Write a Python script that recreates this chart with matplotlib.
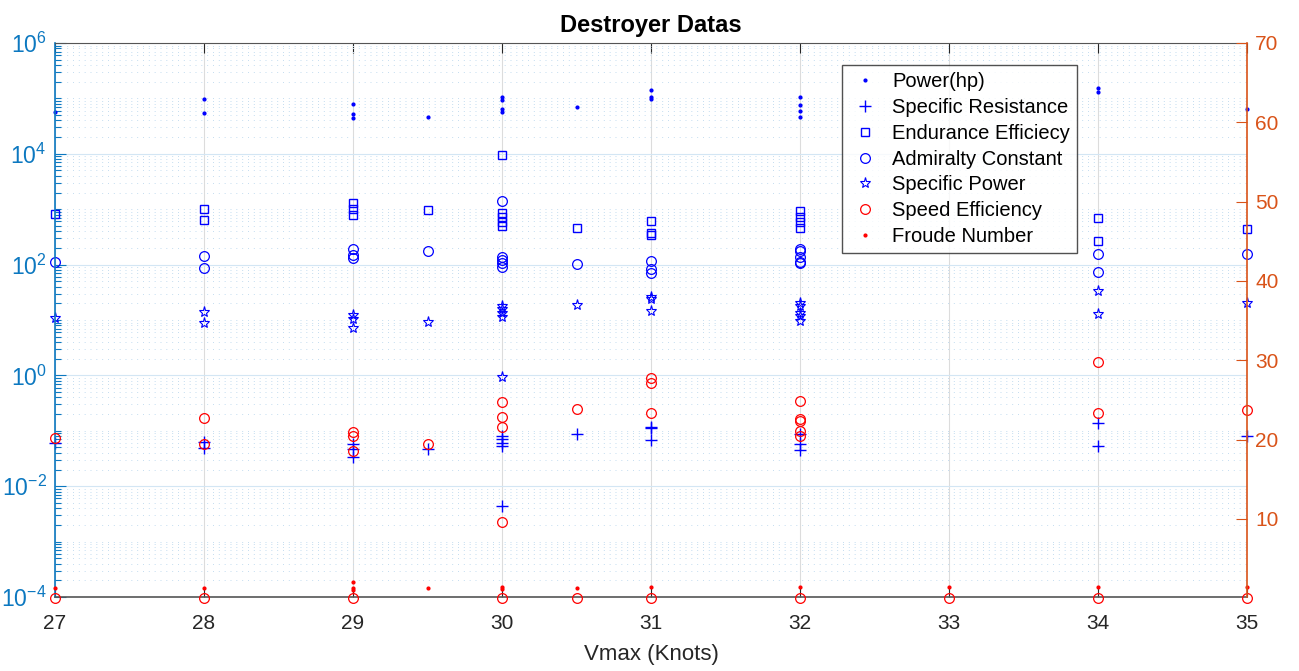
"""
Destroyer data chart: log-scaled quantities on the left axis,
speed efficiency and Froude number on a linear right axis.
"""

import numpy as np
import matplotlib

matplotlib.use("Agg")
import matplotlib.pyplot as plt
from matplotlib.ticker import LogLocator, NullLocator, NullFormatter


# Data (x = Vmax in knots)
power_x = [27, 28, 28, 29, 29, 29, 29.5, 30, 30, 30, 30, 30.5,
           31, 31, 31, 32, 32, 32, 32, 34, 34, 35]
power_hp = [57000, 99000, 55200, 78200, 51600, 43700, 45600,
            107000, 93600, 64400, 56900, 70000,
            142000, 105000, 97500, 107000, 76000, 60000, 45600,
            156000, 129000, 63500]

resist_x = [27, 28, 28, 29, 29, 29, 29.5, 30, 30, 30, 30, 30, 30.5,
            31, 31, 31, 32, 32, 32, 34, 34, 35]
specific_resistance = [0.0594, 0.0635, 0.0483, 0.0578, 0.0463, 0.034, 0.0469,
                       0.0805, 0.0702, 0.061, 0.0532, 0.00445, 0.0887,
                       0.117, 0.112, 0.0683, 0.089, 0.0578, 0.045,
                       0.14, 0.0532, 0.0805]

endur_x = [27, 28, 28, 29, 29, 29, 29.5, 30, 30, 30, 30, 30, 30.5,
           31, 31, 31, 32, 32, 32, 32, 34, 34, 35]
endurance_eff = [809, 1009, 631, 1294, 1009, 776, 968,
                 9640, 843, 714, 596, 498, 452,
                 612, 367, 338, 942, 733, 596, 452, 703, 263, 434]

admir_x = [27, 28, 28, 29, 29, 29, 29.5, 30, 30, 30, 30, 30, 30.5,
           31, 31, 31, 32, 32, 32, 32, 32, 34, 34, 35]
admiralty_const = [110, 143, 87, 194, 147, 130, 174,
                   1390, 139, 121, 105, 91.6, 102.6,
                   118, 82, 71.5, 194, 178, 135.5, 113, 105, 153, 74.5, 153]

spow_x = [27, 28, 28, 29, 29, 29, 29.5, 30, 30, 30, 30, 30, 30.5,
          31, 31, 31, 32, 32, 32, 32, 32, 34, 34, 35]
specific_power = [11, 13.9, 8.9, 12.2, 10.3, 7.1, 9.3,
                  17.9, 15.6, 13.2, 11.2, 0.925, 18.9,
                  26.3, 23.9, 14.4, 20, 17.9, 13.2, 11.8, 9.7, 33.8, 12.8, 20]

speed_x = [27, 27, 28, 28, 28, 29, 29, 29, 29, 29.5, 30, 30, 30, 30, 30,
           30.5, 30.5, 31, 31, 31, 31, 32, 32, 32, 32, 32, 32,
           33, 34, 34, 34, 35, 35]
speed_eff = [20.2, 0, 22.7, 19.4, 0, 20.9, 20.5, 18.5, 0, 19.5,
             24.7, 22.9, 21.6, 9.6, 0, 23.9, 0, 27.8, 27.1, 23.4, 0,
             24.8, 22.6, 22.4, 21.1, 20.5, 0, 0, 29.8, 23.3, 0, 23.7, 0]

froude_x = [27, 28, 29, 29, 29, 29.5, 30, 30, 30.5, 31, 32, 33, 34, 35]
froude_num = [1.25, 1.25, 2.1, 1.25, 1.0, 1.25, 1.45, 1.1, 1.25,
              1.4, 1.4, 1.4, 1.4, 1.4]

x_ticks = [27, 28, 29, 30, 31, 32, 33, 34, 35]
left_ticks = [1e-4, 1e-2, 1e0, 1e2, 1e4, 1e6]
left_labels = [r"$10^{-4}$", r"$10^{-2}$", r"$10^{0}$",
               r"$10^{2}$", r"$10^{4}$", r"$10^{6}$"]
right_ticks = [10, 20, 30, 40, 50, 60, 70]

LEFT_COLOR = "#0c78c0"
RIGHT_COLOR = "#D95319"
TEXT_COLOR = "#262626"


if __name__ == "__main__":
    plt.rcParams["font.family"] = ["Liberation Sans", "DejaVu Sans"]
    plt.rcParams["mathtext.fontset"] = "custom"
    plt.rcParams["mathtext.rm"] = "Liberation Sans"
    plt.rcParams["mathtext.it"] = "Liberation Sans:italic"

    fig = plt.figure(figsize=(12.99, 6.71), dpi=100)
    ax = fig.add_axes([55 / 1299, 1 - 597 / 671, 1192 / 1299, 554 / 671])
    ax2 = ax.twinx()

    # left (log) axis series
    common = dict(linestyle="none", clip_on=False)
    h1, = ax.plot(power_x, power_hp, marker=".", color="blue", ms=4,
                  label="Power(hp)", **common)
    h2, = ax.plot(resist_x, specific_resistance, marker="+", color="blue",
                  ms=9, mew=1.0, label="Specific Resistance", **common)
    h3, = ax.plot(endur_x, endurance_eff, marker="s", color="blue", mfc="none",
                  ms=5.5, mew=1.0, label="Endurance Efficiecy", **common)
    h4, = ax.plot(admir_x, admiralty_const, marker="o", color="blue",
                  mfc="none", ms=7, mew=0.9, label="Admiralty Constant",
                  **common)
    h5, = ax.plot(spow_x, specific_power, marker="*", color="blue",
                  mfc="none", ms=8, mew=0.8, label="Specific Power", **common)

    # right (linear) axis series
    h6, = ax2.plot(speed_x, speed_eff, marker="o", color="red", mfc="none",
                   ms=7, mew=0.9, label="Speed Efficiency", **common)
    h7, = ax2.plot(froude_x, froude_num, marker=".", color="red", ms=4,
                   label="Froude Number", **common)

    ax.set_yscale("log")
    ax.set_ylim(1e-4, 1e6)
    ax.set_yticks(left_ticks)
    ax.set_yticklabels(left_labels)
    ax.yaxis.set_minor_locator(LogLocator(base=10, subs=np.arange(1, 10),
                                          numticks=100))
    ax.yaxis.set_minor_formatter(NullFormatter())
    ax.set_xlim(27, 35)
    ax.set_xticks(x_ticks)
    ax.xaxis.set_minor_locator(NullLocator())

    ax2.set_ylim(0.15, 70)
    ax2.set_yticks(right_ticks)
    ax2.yaxis.set_minor_locator(NullLocator())

    # grids
    ax.grid(axis="x", which="major", color="#dcdcdc", linewidth=0.8)
    ax.grid(axis="y", which="major", color="#d3e6f4", linewidth=0.8)
    ax.grid(axis="y", which="minor", color="#c4ddf0", linewidth=0.7,
            linestyle=(0, (1, 5)))
    ax.set_axisbelow(True)

    # ticks and spines
    ax.tick_params(axis="x", which="major", direction="in", top=True,
                   length=7, width=0.8, color=TEXT_COLOR, labelsize=15,
                   labelcolor=TEXT_COLOR, pad=12)
    ax.tick_params(axis="y", which="major", direction="in", length=8,
                   width=0.8, color=LEFT_COLOR, labelsize=16.5,
                   labelcolor=LEFT_COLOR, pad=6)
    ax.tick_params(axis="y", which="minor", direction="in", length=4,
                   width=0.8, color=LEFT_COLOR)
    ax2.tick_params(axis="y", which="major", direction="in", length=8,
                    width=0.8, color=RIGHT_COLOR, labelsize=15,
                    labelcolor=RIGHT_COLOR, pad=6)

    ax.spines["left"].set_color(LEFT_COLOR)
    ax.spines["left"].set_linewidth(1.2)
    ax.spines["right"].set_visible(False)
    ax.spines["top"].set_color("#555555")
    ax.spines["bottom"].set_color("#555555")
    ax.spines["bottom"].set_linewidth(1.2)
    for side in ("left", "top", "bottom"):
        ax2.spines[side].set_visible(False)
    ax2.spines["right"].set_color(RIGHT_COLOR)
    ax2.spines["right"].set_linewidth(1.2)

    ax.set_xlabel("Vmax (Knots)", fontsize=16, color=TEXT_COLOR, labelpad=8)
    ax.set_title("Destroyer Datas", fontsize=17, fontweight="bold", pad=8)

    leg = ax2.legend(
        handles=[h1, h2, h3, h4, h5, h6, h7],
        loc="upper right",
        bbox_to_anchor=((1077 - 55) / 1192, (597 - 65) / 554),
        borderaxespad=0,
        fontsize=14.5,
        frameon=True,
        fancybox=False,
        handlelength=1.6,
        handletextpad=0.55,
        labelspacing=0.34,
        borderpad=0.35,
    )
    leg.get_frame().set_edgecolor("#262626")
    leg.get_frame().set_linewidth(1.0)

    fig.savefig("out.png", dpi=100)
